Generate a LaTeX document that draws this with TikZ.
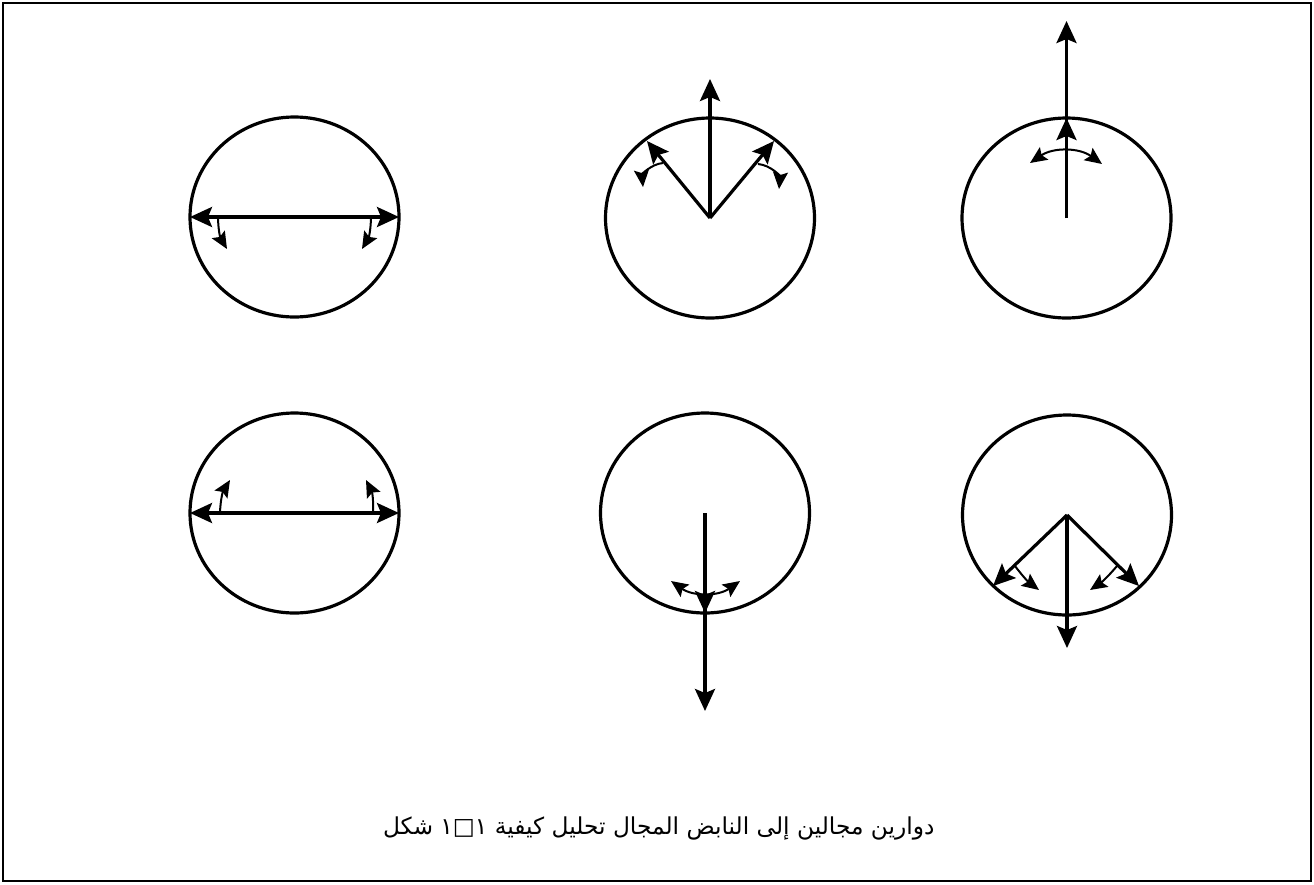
\documentclass[tikz,border=0pt]{standalone}
\usepackage{fontspec}
\newfontfamily\arabicfont[Script=Arabic]{DejaVu Sans}
\usetikzlibrary{positioning,arrows.meta,shapes.geometric}

\begin{document}
\begin{tikzpicture}[
  x=1pt, y=-1pt,
  node distance=7.4pt,
  field/.style={draw,ellipse,line width=3.2pt,minimum width=209pt,minimum height=200pt,inner sep=0pt,outer sep=0pt},
  vec/.style={-{Stealth[length=22pt,width=20pt,inset=4pt]},line width=3.2pt},
  turn/.style={-{Stealth[length=17pt,width=15pt,inset=3pt]},line width=2pt},
  swing/.style={{Stealth[length=17pt,width=15pt,inset=3pt]}-{Stealth[length=17pt,width=15pt,inset=3pt]},line width=2pt},
  word/.style={font=\arabicfont\fontsize{23.3}{28}\selectfont,inner sep=0pt,outer sep=0pt}
]
\useasboundingbox (0,0) rectangle (1314,884);
\draw[line width=1.8pt] (3,3) rectangle (1311,881);

\node[field] (tl) at (294.5,217) {};
\node[field] (tm) at (710,218) {};
\node[field] (tr) at (1066.5,218) {};
\node[field] (bl) at (294.5,513) {};
\node[field] (bm) at (705,513) {};
\node[field] (br) at (1067,515) {};

\draw[vec] (tl.center) -- (tl.west);
\draw[vec] (tl.center) -- (tl.east);
\draw[turn] (218,217) to[bend right=15] (227,249);
\draw[turn] (371,217) to[bend left=15] (362,249);

\draw[vec] (tm.center) -- ++(0,-139);
\draw[vec] (tm.center) -- ++(-63,-77);
\draw[vec] (tm.center) -- ++(64,-77);
\draw[turn] (663,163) to[bend right=45] (643,187);
\draw[turn] (758,164) to[bend left=45] (779,189);

\draw[vec] (tr.center) -- ++(0,-197);
\draw[vec] (tr.center) -- (tr.north);
\draw[swing] (1030,163) to[bend left=35] (1102,164);

\draw[vec] (bl.center) -- (bl.west);
\draw[vec] (bl.center) -- (bl.east);
\draw[turn] (220,513) to[bend left=15] (230,480);
\draw[turn] (373,513) to[bend right=15] (366,480);

\draw[vec] (bm.center) -- ++(0,198);
\draw[vec] (bm.center) -- (bm.south);
\draw[swing] (671,581) to[bend right=35] (740,581);

\draw[vec] (br.center) -- ++(-74,71);
\draw[vec] (br.center) -- ++(72,71);
\draw[vec] (br.center) -- ++(0,133);
\draw[turn] (1015,566) to[bend right=8] (1039,590);
\draw[turn] (1117,566) to[bend left=8] (1090,590);

\node[word,anchor=base west] (w1) at (383,834) {شكل};
\node[word,base right=of w1] (w2) {١□١};
\node[word,base right=of w2] (w3) {كيفية};
\node[word,base right=of w3] (w4) {تحليل};
\node[word,base right=of w4] (w5) {المجال};
\node[word,base right=of w5] (w6) {النابض};
\node[word,base right=of w6] (w7) {إلى};
\node[word,base right=of w7] (w8) {مجالين};
\node[word,base right=of w8] (w9) {دوارين};
\end{tikzpicture}
\end{document}
